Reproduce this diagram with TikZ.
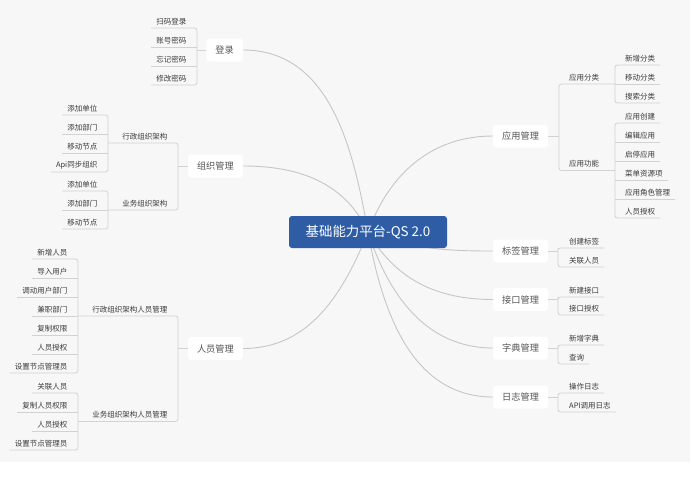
\documentclass[tikz,border=0pt]{standalone}
\usepackage{fontspec}
\newfontfamily\cjkfont{Noto Sans CJK SC}
\definecolor{bggray}{HTML}{F7F7F7}
\definecolor{rootblue}{HTML}{2F5DA5}
\definecolor{branchgray}{HTML}{C6C6C6}
\definecolor{treegray}{HTML}{D2D2D2}
\definecolor{topictext}{HTML}{555555}
\definecolor{leaftext}{HTML}{3A3A3A}
\tikzset{
  root/.style={fill=rootblue, text=white, rounded corners=3pt, minimum width=158pt,
    minimum height=32pt, font=\cjkfont\fontsize{13.4}{15}\selectfont},
  topic/.style={fill=white, text=topictext, rounded corners=3pt, minimum height=23pt,
    inner xsep=9pt, font=\cjkfont\fontsize{9.2}{11}\selectfont},
  leaf/.style={text=leaftext, inner xsep=5pt, inner ysep=3pt,
    font=\cjkfont\fontsize{7.5}{9}\selectfont},
  leafl/.style={leaf, anchor=south east},
  leafr/.style={leaf, anchor=south west},
  branch/.style={draw=branchgray, line width=0.9pt},
  tree/.style={draw=treegray, line width=0.8pt, rounded corners=2.5pt},
}
\begin{document}
\begin{tikzpicture}[x=1pt,y=1pt]
  % Canvas
  \useasboundingbox (0,0) rectangle (692,-477);
  \fill[white] (0,0) rectangle (692,-477);
  \fill[bggray] (0,0) rectangle (690,-462);

  \coordinate (rc) at (368,-232);

  % Main topics
  \node[topic, anchor=east] (login) at (243,-50) {登录};
  \node[topic, anchor=east] (org) at (243,-166) {组织管理};
  \node[topic, anchor=east] (staff) at (243,-348.5) {人员管理};
  \node[topic, anchor=west] (app) at (493,-136) {应用管理};
  \node[topic, anchor=west] (tag) at (493,-251) {标签管理};
  \node[topic, anchor=west] (iface) at (493,-299.5) {接口管理};
  \node[topic, anchor=west] (dict) at (493,-348) {字典管理};
  \node[topic, anchor=west] (logm) at (493,-397) {日志管理};

  % Branches from the root
  \draw[branch] (rc) to[out=100, in=0] (login.east);
  \draw[branch] (rc) to[out=115, in=0] (org.east);
  \draw[branch] (rc) to[out=-112, in=0] (staff.east);
  \draw[branch] (rc) to[out=70, in=180] (app.west);
  \draw[branch] (rc) to[out=-20, in=180] (tag.west);
  \draw[branch] (rc) to[out=-60, in=180] (iface.west);
  \draw[branch] (rc) to[out=-72, in=180] (dict.west);
  \draw[branch] (rc) to[out=-80, in=180] (logm.west);

  % Root
  \node[root] (root) at (rc) {基础能力平台-QS 2.0};

  % 登录
  \coordinate (loginB) at (197,-50);
  \node[leafl] (login1) at (191.5,-28) {扫码登录};
  \node[leafl] (login2) at (191.5,-47) {账号密码};
  \node[leafl] (login3) at (191.5,-66) {忘记密码};
  \node[leafl] (login4) at (191.5,-85) {修改密码};
  \draw[tree] (login1.south west) -| (loginB) |- (login4.south west);
  \draw[tree] (login2.south west) -- (login2.south west -| loginB);
  \draw[tree] (login3.south west) -- (login3.south west -| loginB);
  \draw[tree] (login) -- (loginB);

  % 组织管理
  \coordinate (orgB) at (178,-166);
  \coordinate (orgA) at (108,-143);
  \coordinate (orgC) at (108,-210);
  \node[leafl] (org1) at (172.5,-143) {行政组织架构};
  \node[leafl] (org2) at (172.5,-210) {业务组织架构};
  \node[leafl] (orgA1) at (102.5,-115) {添加单位};
  \node[leafl] (orgA2) at (102.5,-134) {添加部门};
  \node[leafl] (orgA3) at (102.5,-153) {移动节点};
  \node[leafl] (orgA4) at (102.5,-172) {Api同步组织};
  \node[leafl] (orgC1) at (102.5,-191) {添加单位};
  \node[leafl] (orgC2) at (102.5,-210) {添加部门};
  \node[leafl] (orgC3) at (102.5,-229) {移动节点};
  \draw[tree] (orgA1.south west) -| (orgA) |- (orgA4.south west);
  \draw[tree] (orgA2.south west) -- (orgA2.south west -| orgA);
  \draw[tree] (orgA3.south west) -- (orgA3.south west -| orgA);
  \draw[tree] (orgC1.south west) -| (orgC) |- (orgC3.south west);
  \draw[tree] (orgC2.south west) -- (orgC);
  \draw[tree] (orgA) -| (orgB) |- (orgC);
  \draw[tree] (org) -- (orgB);

  % 人员管理
  \coordinate (staffB) at (178,-348.5);
  \coordinate (staffA) at (78,-316);
  \coordinate (staffC) at (78,-421.5);
  \node[leafl] (staff1) at (172.5,-316) {行政组织架构人员管理};
  \node[leafl] (staff2) at (172.5,-421.5) {业务组织架构人员管理};
  \node[leafl] (staffA1) at (72.5,-259) {新增人员};
  \node[leafl] (staffA2) at (72.5,-278) {导入用户};
  \node[leafl] (staffA3) at (72.5,-297) {调动用户部门};
  \node[leafl] (staffA4) at (72.5,-316) {兼职部门};
  \node[leafl] (staffA5) at (72.5,-335) {复制权限};
  \node[leafl] (staffA6) at (72.5,-354) {人员授权};
  \node[leafl] (staffA7) at (72.5,-373) {设置节点管理员};
  \node[leafl] (staffC1) at (72.5,-393) {关联人员};
  \node[leafl] (staffC2) at (72.5,-412) {复制人员权限};
  \node[leafl] (staffC3) at (72.5,-431) {人员授权};
  \node[leafl] (staffC4) at (72.5,-450) {设置节点管理员};
  \draw[tree] (staffA1.south west) -| (staffA) |- (staffA7.south west);
  \draw[tree] (staffA2.south west) -- (staffA2.south west -| staffA);
  \draw[tree] (staffA3.south west) -- (staffA3.south west -| staffA);
  \draw[tree] (staffA4.south west) -- (staffA);
  \draw[tree] (staffA5.south west) -- (staffA5.south west -| staffA);
  \draw[tree] (staffA6.south west) -- (staffA6.south west -| staffA);
  \draw[tree] (staffC1.south west) -| (staffC) |- (staffC4.south west);
  \draw[tree] (staffC2.south west) -- (staffC2.south west -| staffC);
  \draw[tree] (staffC3.south west) -- (staffC3.south west -| staffC);
  \draw[tree] (staffA) -| (staffB) |- (staffC);
  \draw[tree] (staff) -- (staffB);

  % 应用管理
  \coordinate (appB) at (559,-136);
  \coordinate (appA) at (615,-84);
  \coordinate (appC) at (615,-170.5);
  \node[leafr] (app1) at (564,-84) {应用分类};
  \node[leafr] (app2) at (564,-170.5) {应用功能};
  \node[leafr] (appA1) at (620,-65) {新增分类};
  \node[leafr] (appA2) at (620,-84) {移动分类};
  \node[leafr] (appA3) at (620,-103) {搜索分类};
  \node[leafr] (appC1) at (620,-123) {应用创建};
  \node[leafr] (appC2) at (620,-142) {编辑应用};
  \node[leafr] (appC3) at (620,-161) {启停应用};
  \node[leafr] (appC4) at (620,-180) {菜单资源项};
  \node[leafr] (appC5) at (620,-199) {应用角色管理};
  \node[leafr] (appC6) at (620,-218) {人员授权};
  \draw[tree] (appA1.south east) -| (appA) |- (appA3.south east);
  \draw[tree] (appA2.south east) -- (appA);
  \draw[tree] (appC1.south east) -| (appC) |- (appC6.south east);
  \draw[tree] (appC2.south east) -- (appC2.south east -| appC);
  \draw[tree] (appC3.south east) -- (appC3.south east -| appC);
  \draw[tree] (appC4.south east) -- (appC4.south east -| appC);
  \draw[tree] (appC5.south east) -- (appC5.south east -| appC);
  \draw[tree] (appA) -| (appB) |- (appC);
  \draw[tree] (app) -- (appB);

  % 标签管理
  \coordinate (tagB) at (558,-251);
  \node[leafr] (tag1) at (564,-248) {创建标签};
  \node[leafr] (tag2) at (564,-267) {关联人员};
  \draw[tree] (tag1.south east) -| (tagB) |- (tag2.south east);
  \draw[tree] (tag) -- (tagB);

  % 接口管理
  \coordinate (ifaceB) at (558,-299.5);
  \node[leafr] (iface1) at (564,-297) {新建接口};
  \node[leafr] (iface2) at (564,-315) {接口授权};
  \draw[tree] (iface1.south east) -| (ifaceB) |- (iface2.south east);
  \draw[tree] (iface) -- (ifaceB);

  % 字典管理
  \coordinate (dictB) at (558,-348);
  \node[leafr] (dict1) at (564,-345) {新增字典};
  \node[leafr] (dict2) at (564,-364) {查询};
  \draw[tree] (dict1.south east) -| (dictB) |- (dict2.south east);
  \draw[tree] (dict) -- (dictB);

  % 日志管理
  \coordinate (logmB) at (558,-397);
  \node[leafr] (logm1) at (564,-393) {操作日志};
  \node[leafr] (logm2) at (564,-412) {API调用日志};
  \draw[tree] (logm1.south east) -| (logmB) |- (logm2.south east);
  \draw[tree] (logm) -- (logmB);
\end{tikzpicture}
\end{document}
